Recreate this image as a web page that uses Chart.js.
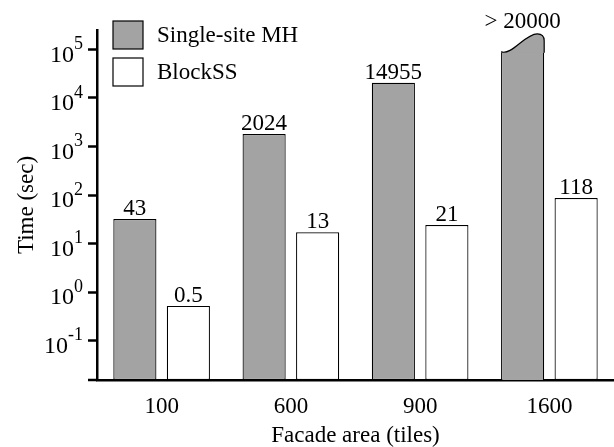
<!DOCTYPE html>
<html lang="en">
<head>
<meta charset="UTF-8" />
<title>Time vs facade area</title>
<style>
  html, body { margin: 0; padding: 0; background: #fff; }
  #wrap { width: 614px; height: 447px; }
</style>
</head>
<body>
<div id="wrap"><canvas id="myChart" width="614" height="447"></canvas></div>
<script src="https://cdn.jsdelivr.net/npm/chart.js"></script>
<script>
const categories = ["100", "600", "900", "1600"];
const singleSiteMH = [32, 1800, 20500, 89000];
const blockSS = [0.52, 17, 24, 87];
const singleSiteLabels = ["43", "2024", "14955", "> 20000"];
const blockSSLabels = ["0.5", "13", "21", "118"];
const yExponents = [-1, 0, 1, 2, 3, 4, 5];
const brokenBar = 3; // the >20000 bar gets a wavy top

const FONT = "'Liberation Serif', 'Times New Roman', serif";
const GRAY = "#a3a3a3";

function wavePath(c, L, R, T) {
  const w = R - L;
  c.moveTo(L, T);
  c.bezierCurveTo(L + w * 0.25, T + 4, L + w * 0.55, T - 18, L + w * 0.84, T - 18);
  c.bezierCurveTo(L + w * 0.97, T - 18, R, T - 14, R, T - 11);
}

const extras = {
  id: "extras",
  afterDatasetsDraw(chart) {
    const c = chart.ctx;
    const y = chart.scales.y;
    const area = chart.chartArea;

    // wavy cap for the cut-off bar
    const el = chart.getDatasetMeta(0).data[brokenBar];
    const L = el.x - el.width / 2, R = el.x + el.width / 2, T = el.y;
    c.save();
    c.beginPath();
    wavePath(c, L, R, T);
    c.lineTo(R, T + 1);
    c.lineTo(L, T + 1);
    c.closePath();
    c.fillStyle = GRAY;
    c.fill();
    c.beginPath();
    wavePath(c, L, R, T);
    c.lineTo(R, T + 1);
    c.lineWidth = 1.2;
    c.strokeStyle = "#000";
    c.stroke();

    // value labels above bars
    c.font = "23px " + FONT;
    c.fillStyle = "#000";
    c.textAlign = "center";
    c.textBaseline = "alphabetic";
    [singleSiteLabels, blockSSLabels].forEach((labels, di) => {
      chart.getDatasetMeta(di).data.forEach((bar, i) => {
        const lift = (di === 0 && i === brokenBar) ? 24 : 4;
        c.fillText(labels[i], bar.x, bar.y - lift);
      });
    });

    // y tick labels as 10^n
    yExponents.forEach(e => {
      const py = y.getPixelForValue(Math.pow(10, e));
      const exp = String(e);
      c.font = "18px " + FONT;
      const ew = c.measureText(exp).width;
      const right = 83;
      c.textAlign = "left";
      c.textBaseline = "middle";
      c.fillText(exp, right - ew, py - 5);
      c.font = "24px " + FONT;
      c.textAlign = "right";
      c.fillText("10", right - ew, py + 6);
    });

    // x axis line extends a little left of the y axis
    c.beginPath();
    c.moveTo(88, area.bottom);
    c.lineTo(area.left, area.bottom);
    c.lineWidth = 2.5;
    c.stroke();

    // legend inside the plot
    chart.data.datasets.forEach((ds, i) => {
      const bx = 113, by = 21 + i * 37;
      c.fillStyle = ds.backgroundColor;
      c.fillRect(bx, by, 30, 28);
      c.lineWidth = 1.2;
      c.strokeStyle = "#000";
      c.strokeRect(bx, by, 30, 28);
      c.fillStyle = "#000";
      c.font = "23px " + FONT;
      c.textAlign = "left";
      c.textBaseline = "middle";
      c.fillText(ds.label, 157, by + 15);
    });
    c.restore();
  }
};

const ctx = document.getElementById("myChart").getContext("2d");
new Chart(ctx, {
  type: "bar",
  data: {
    labels: categories,
    datasets: [
      {
        label: "Single-site MH",
        data: singleSiteMH,
        backgroundColor: GRAY,
        borderColor: "#000",
        borderWidth: (c) => c.dataIndex === brokenBar ? { left: 1.2, right: 1.2, top: 0, bottom: 0 } : 1.2,
        borderSkipped: false,
      },
      {
        label: "BlockSS",
        data: blockSS,
        backgroundColor: "#ffffff",
        borderColor: "#000",
        borderWidth: 1.2,
        borderSkipped: false,
      },
    ],
  },
  options: {
    responsive: false,
    animation: false,
    devicePixelRatio: 1,
    layout: { padding: { top: 30, right: -5, left: 0, bottom: 0 } },
    datasets: { bar: { categoryPercentage: 0.828, barPercentage: 0.806 } },
    plugins: { legend: { display: false }, tooltip: { enabled: false } },
    scales: {
      x: {
        grid: { display: false },
        border: { display: true, color: "#000", width: 2.5 },
        ticks: { color: "#000", padding: 5, font: { family: FONT, size: 23 } },
        title: {
          display: true,
          text: "Facade area (tiles)",
          color: "#000",
          font: { family: FONT, size: 23, lineHeight: 1 },
          padding: { top: 0, bottom: 0 },
        },
        afterFit: (s) => { s.height = 67; },
      },
      y: {
        type: "logarithmic",
        min: 0.0155,
        max: 250000,
        afterBuildTicks: (s) => { s.ticks = yExponents.map(e => ({ value: Math.pow(10, e) })); },
        ticks: { display: false },
        grid: { drawOnChartArea: false, drawTicks: true, tickLength: 9, tickWidth: 2.5, tickColor: "#000", color: "#000" },
        border: { display: true, color: "#000", width: 2.5 },
        title: {
          display: true,
          text: "Time (sec)",
          color: "#000",
          font: { family: FONT, size: 23, lineHeight: 1 },
          padding: { top: 15, bottom: 0 },
        },
        afterFit: (s) => { s.width = 97; },
      },
    },
  },
  plugins: [extras],
});
</script>
</body>
</html>
